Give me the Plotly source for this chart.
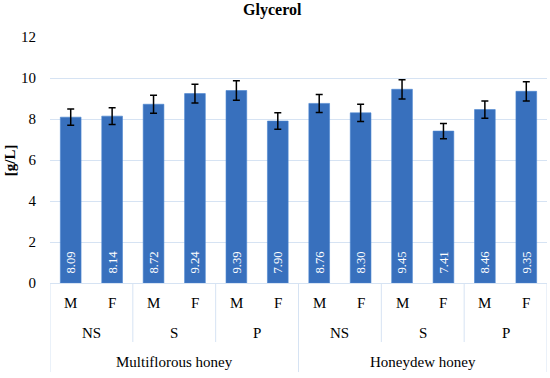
import plotly.graph_objects as go

honey_types = ["Multiflorous honey", "Honeydew honey"]
treatments = ["NS", "S", "P"]
sexes = ["M", "F"]
values = [8.09, 8.14, 8.72, 9.24, 9.39, 7.90, 8.76, 8.30, 9.45, 7.41, 8.46, 9.35]
errors = [0.40, 0.41, 0.44, 0.46, 0.47, 0.40, 0.44, 0.42, 0.47, 0.37, 0.42, 0.47]
y_ticks = [0, 2, 4, 6, 8, 10, 12]

FONT = "'Liberation Serif', 'DejaVu Serif', serif"
GRID = "#D6E3F3"

n = len(values)
xs = list(range(n))
sex_labels = [sexes[i % len(sexes)] for i in xs]

fig = go.Figure()
fig.add_trace(go.Bar(
    x=xs, y=values,
    marker=dict(color="#3870BD", line=dict(color="#4A84D0", width=0.6)),
    width=0.5,
    error_y=dict(type="data", array=errors, color="black", thickness=1.5, width=3.5),
    text=["\u00a0\u00a0" + f"{v:.2f}" for v in values],
    textposition="inside", insidetextanchor="start", textangle=-90,
    textfont=dict(family=FONT, size=13, color="white"),
    insidetextfont=dict(family=FONT, size=13, color="white"),
    cliponaxis=False,
))

annotations = []
shapes = []
lab_font = dict(family=FONT, size=15, color="black")
# level 1: M / F
for i in xs:
    annotations.append(dict(x=i, y=-0.083, xref="x", yref="paper", text=sex_labels[i],
                            xanchor="center", yanchor="middle", showarrow=False, font=lab_font))
# level 2: treatments
per_t = len(sexes)
n_t = n // per_t
for k in range(n_t):
    c = k * per_t + (per_t - 1) / 2
    annotations.append(dict(x=c, y=-0.205, xref="x", yref="paper", text=treatments[k % len(treatments)],
                            xanchor="center", yanchor="middle", showarrow=False, font=lab_font))
    if k > 0 and k % len(treatments) != 0:
        xb = k * per_t - 0.5
        shapes.append(dict(type="line", xref="x", yref="paper", x0=xb, x1=xb, y0=0, y1=-0.24,
                           line=dict(color=GRID, width=1)))
# level 3: honey types
per_h = per_t * len(treatments)
for h, name in enumerate(honey_types):
    c = h * per_h + (per_h - 1) / 2
    annotations.append(dict(x=c, y=-0.322, xref="x", yref="paper", text=name,
                            xanchor="center", yanchor="middle", showarrow=False, font=lab_font))
for h in range(len(honey_types) + 1):
    xb = h * per_h - 0.5
    shapes.append(dict(type="line", xref="x", yref="paper", x0=xb, x1=xb, y0=0, y1=-0.362,
                       line=dict(color=GRID, width=1)))

annotations.append(dict(x=-0.08, y=0.5, xref="paper", yref="paper", text="<b>[g/L]</b>",
                        xanchor="center", yanchor="middle",
                        textangle=-90, showarrow=False, font=lab_font))

fig.update_layout(
    width=550, height=378,
    margin=dict(l=50, r=3, t=37, b=95),
    paper_bgcolor="white", plot_bgcolor="white",
    title=dict(text="<b>Glycerol</b>", x=0.495, xanchor="center", y=0.99, yanchor="top",
               font=dict(family=FONT, size=16, color="black")),
    showlegend=False,
    xaxis=dict(range=[-0.5, n - 0.5], showticklabels=False, showgrid=False, zeroline=False,
               showline=False, fixedrange=True),
    yaxis=dict(range=[0, 12], tickvals=y_ticks, showgrid=True, gridcolor=GRID, gridwidth=1,
               zeroline=True, zerolinecolor=GRID, zerolinewidth=1, showline=False,
               tickfont=dict(family=FONT, size=15, color="black"), ticklabelstandoff=13),
    annotations=annotations, shapes=shapes,
    font=dict(family=FONT),
)

fig.write_html("out.html", config={"displayModeBar": False},
               post_script="document.body.style.margin='0px';")
